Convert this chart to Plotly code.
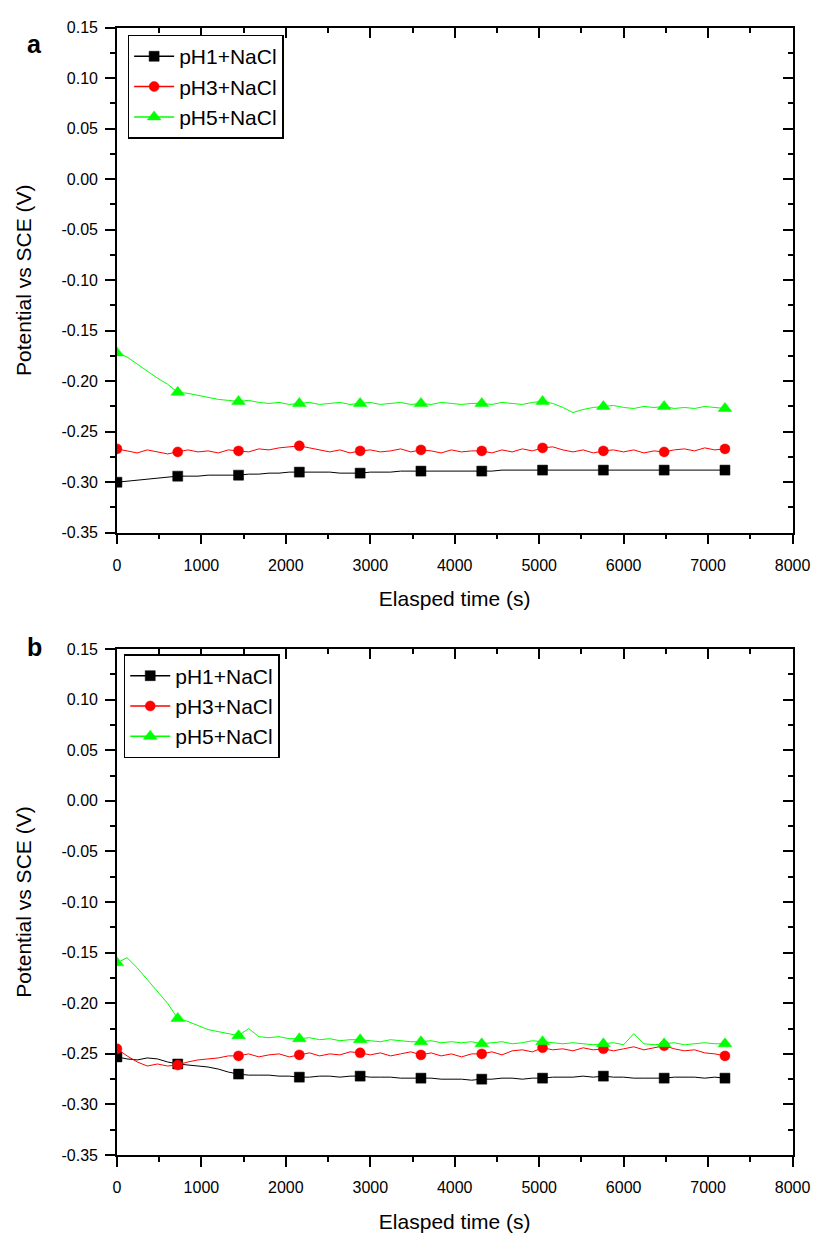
import plotly.graph_objects as go

# Elapsed time grid (s), one reading every 120 s
time_s = [i * 120 for i in range(61)]

# Panel a: open-circuit potential vs SCE (V)
a_ph1 = [-0.300, -0.299, -0.298, -0.297, -0.296, -0.295, -0.294, -0.294, -0.294, -0.293,
         -0.293, -0.293, -0.293, -0.292, -0.292, -0.291, -0.291, -0.290, -0.290, -0.290,
         -0.290, -0.290, -0.291, -0.291, -0.291, -0.290, -0.290, -0.290, -0.289, -0.289,
         -0.289, -0.289, -0.289, -0.289, -0.289, -0.289, -0.289, -0.289, -0.288, -0.288,
         -0.288, -0.288, -0.288, -0.288, -0.288, -0.288, -0.288, -0.288, -0.288, -0.288,
         -0.288, -0.288, -0.288, -0.288, -0.288, -0.288, -0.288, -0.288, -0.288, -0.288,
         -0.288]
a_ph3 = [-0.267, -0.269, -0.271, -0.268, -0.270, -0.272, -0.270, -0.268, -0.270, -0.269,
         -0.271, -0.268, -0.269, -0.270, -0.267, -0.268, -0.266, -0.265, -0.264, -0.266,
         -0.268, -0.270, -0.268, -0.271, -0.269, -0.268, -0.270, -0.269, -0.267, -0.270,
         -0.268, -0.269, -0.271, -0.268, -0.270, -0.269, -0.269, -0.271, -0.268, -0.270,
         -0.267, -0.269, -0.266, -0.265, -0.268, -0.270, -0.268, -0.271, -0.269, -0.268,
         -0.270, -0.268, -0.271, -0.269, -0.270, -0.268, -0.267, -0.269, -0.266, -0.268,
         -0.267]
a_ph5 = [-0.172, -0.176, -0.183, -0.190, -0.197, -0.203, -0.211, -0.212, -0.214, -0.216,
         -0.218, -0.219, -0.220, -0.219, -0.221, -0.222, -0.221, -0.223, -0.222, -0.221,
         -0.223, -0.222, -0.221, -0.223, -0.222, -0.221, -0.223, -0.222, -0.221, -0.223,
         -0.222, -0.223, -0.221, -0.222, -0.223, -0.222, -0.222, -0.223, -0.221, -0.222,
         -0.223, -0.221, -0.220, -0.222, -0.226, -0.231, -0.228, -0.226, -0.225, -0.224,
         -0.226, -0.227, -0.225, -0.226, -0.225, -0.227, -0.226, -0.227, -0.225, -0.226,
         -0.227]

# Panel b
b_ph1 = [-0.253, -0.255, -0.256, -0.254, -0.255, -0.258, -0.260, -0.261, -0.262, -0.263,
         -0.265, -0.268, -0.270, -0.271, -0.271, -0.271, -0.272, -0.272, -0.273, -0.273,
         -0.272, -0.272, -0.273, -0.272, -0.272, -0.273, -0.273, -0.273, -0.274, -0.274,
         -0.274, -0.274, -0.275, -0.275, -0.275, -0.276, -0.275, -0.275, -0.274, -0.274,
         -0.275, -0.274, -0.274, -0.273, -0.273, -0.273, -0.272, -0.273, -0.272, -0.273,
         -0.273, -0.274, -0.274, -0.274, -0.274, -0.273, -0.273, -0.273, -0.274, -0.273,
         -0.274]
b_ph3 = [-0.245, -0.252, -0.258, -0.262, -0.260, -0.262, -0.261, -0.258, -0.256, -0.255,
         -0.254, -0.252, -0.252, -0.250, -0.253, -0.251, -0.250, -0.253, -0.251, -0.249,
         -0.252, -0.250, -0.251, -0.248, -0.249, -0.251, -0.249, -0.252, -0.250, -0.248,
         -0.251, -0.249, -0.252, -0.250, -0.253, -0.250, -0.250, -0.248, -0.251, -0.247,
         -0.246, -0.248, -0.244, -0.246, -0.245, -0.247, -0.244, -0.246, -0.245, -0.247,
         -0.245, -0.243, -0.246, -0.244, -0.242, -0.245, -0.247, -0.246, -0.249, -0.250,
         -0.252]
b_ph5 = [-0.160, -0.155, -0.165, -0.177, -0.188, -0.200, -0.215, -0.218, -0.222, -0.226,
         -0.228, -0.230, -0.232, -0.225, -0.233, -0.234, -0.233, -0.235, -0.235, -0.234,
         -0.236, -0.235, -0.237, -0.236, -0.236, -0.237, -0.238, -0.236, -0.237, -0.238,
         -0.238, -0.237, -0.239, -0.238, -0.239, -0.238, -0.240, -0.239, -0.238, -0.240,
         -0.239, -0.237, -0.238, -0.239, -0.240, -0.239, -0.240, -0.241, -0.240, -0.239,
         -0.241, -0.230, -0.240, -0.241, -0.240, -0.239, -0.241, -0.240, -0.239, -0.240,
         -0.240]

series_names = ["pH1+NaCl", "pH3+NaCl", "pH5+NaCl"]
x_ticks = [0, 1000, 2000, 3000, 4000, 5000, 6000, 7000, 8000]
y_ticks = [0.15, 0.10, 0.05, 0.00, -0.05, -0.10, -0.15, -0.20, -0.25, -0.30, -0.35]
y_ticktext = [f"{v:.2f}" for v in y_ticks]

colors = ["#000000", "#FF0000", "#00FF00"]
symbols = ["square", "circle", "triangle-up"]
sym_sizes = [10, 10, 12]
MARK_EVERY = 6  # a symbol every 720 s

FONT = "Liberation Sans, Arial, sans-serif"
INK = "#000000"
W, H = 830, 1241
px_x = lambda p: p / W
px_y = lambda p: 1 - p / H

fig = go.Figure()

panels = [
    ("x", "y", "legend", [a_ph1, a_ph3, a_ph5]),
    ("x2", "y2", "legend2", [b_ph1, b_ph3, b_ph5]),
]
for xa, ya, leg, data in panels:
    for k, (name, vals, c, s, ss) in enumerate(zip(series_names, data, colors, symbols, sym_sizes)):
        # full curve
        fig.add_trace(go.Scatter(
            x=time_s, y=vals, mode="lines", line=dict(color=c, width=1),
            xaxis=xa, yaxis=ya, showlegend=False, hoverinfo="x+y",
        ))
        # symbols on every 720 s reading
        fig.add_trace(go.Scatter(
            x=time_s[::MARK_EVERY], y=vals[::MARK_EVERY], mode="markers",
            marker=dict(color=c, symbol=s, size=ss, line=dict(width=0.5, color=c)),
            xaxis=xa, yaxis=ya, showlegend=False,
        ))
        # legend entry (line with symbol)
        fig.add_trace(go.Scatter(
            x=[None], y=[None], name=name, mode="lines+markers",
            line=dict(color=c, width=1.5),
            marker=dict(color=c, symbol=s, size=ss, line=dict(width=0.5, color=c)),
            xaxis=xa, yaxis=ya, legend=leg, legendgroup=f"{leg}_{k}",
        ))

# invisible traces that carry the inward tick axes on the top and right edges
for xa, ya in [("x3", "y3"), ("x4", "y4")]:
    fig.add_trace(go.Scatter(x=[None], y=[None], xaxis=xa, yaxis=ya,
                             showlegend=False, hoverinfo="skip"))

dom_x = [px_x(116), px_x(810)]
dom_a = [px_y(532), px_y(20)]
dom_b = [px_y(1163), px_y(650)]

tickfont = dict(family=FONT, size=16, color=INK)
titlefont = dict(family=FONT, size=21, color=INK)


def main_x(anchor):
    return dict(domain=dom_x, anchor=anchor, range=[0, 8000], tickvals=x_ticks,
                ticktext=[str(v) for v in x_ticks], ticks="outside", ticklen=10,
                tickwidth=1.5, tickcolor=INK, showline=True, linewidth=1.5,
                linecolor=INK, mirror=True, showgrid=False, zeroline=False,
                minor=dict(ticks="outside", ticklen=5, tickwidth=1.5, dtick=500,
                           tickcolor=INK, showgrid=False),
                tickfont=tickfont, ticklabelstandoff=7,
                title=dict(text="Elasped time (s)", font=titlefont, standoff=19))


def main_y(anchor, dom):
    return dict(domain=dom, anchor=anchor, range=[-0.35, 0.15], tickvals=y_ticks,
                ticktext=y_ticktext, ticks="outside", ticklen=10, tickwidth=1.5,
                tickcolor=INK, showline=True, linewidth=1.5, linecolor=INK,
                mirror=True, showgrid=False, zeroline=False,
                minor=dict(ticks="outside", ticklen=5, tickwidth=1.5, dtick=0.025,
                           tickcolor=INK, showgrid=False),
                tickfont=tickfont, ticklabelstandoff=4,
                title=dict(text="Potential vs SCE (V)", font=titlefont, standoff=24))


def edge_x(anchor, over):
    return dict(domain=dom_x, anchor=anchor, overlaying=over, side="top",
                range=[0, 8000], tickvals=x_ticks, ticks="inside", ticklen=10,
                tickwidth=1.5, tickcolor=INK, showticklabels=False,
                showline=False, showgrid=False, zeroline=False,
                minor=dict(ticks="inside", ticklen=5, tickwidth=1.5, dtick=500,
                           tickcolor=INK, showgrid=False))


def edge_y(anchor, over, dom):
    return dict(domain=dom, anchor=anchor, overlaying=over, side="right",
                range=[-0.35, 0.15], tickvals=y_ticks, ticks="inside", ticklen=10,
                tickwidth=1.5, tickcolor=INK, showticklabels=False,
                showline=False, showgrid=False, zeroline=False,
                minor=dict(ticks="inside", ticklen=5, tickwidth=1.5, dtick=0.025,
                           tickcolor=INK, showgrid=False))


legend_style = dict(font=dict(family=FONT, size=21, color=INK),
                    bgcolor="white", bordercolor=INK, borderwidth=1.5,
                    xanchor="left", yanchor="top", traceorder="grouped",
                    tracegroupgap=0, itemwidth=40)

fig.update_layout(
    width=W, height=H, margin=dict(l=0, r=0, t=0, b=0),
    paper_bgcolor="white", plot_bgcolor="white",
    font=dict(family=FONT, color=INK),
    xaxis=main_x("y"), yaxis=main_y("x", dom_a),
    xaxis2=main_x("y2"), yaxis2=main_y("x2", dom_b),
    xaxis3=edge_x("y3", "x"), yaxis3=edge_y("x3", "y", dom_a),
    xaxis4=edge_x("y4", "x2"), yaxis4=edge_y("x4", "y2", dom_b),
    legend=dict(x=px_x(127), y=px_y(27), **legend_style),
    legend2=dict(x=px_x(123), y=px_y(655), **legend_style),
    annotations=[
        dict(text="<b>a</b>", x=px_x(22), y=px_y(20), xref="paper", yref="paper",
             showarrow=False, font=dict(family=FONT, size=25, color=INK)),
        dict(text="<b>b</b>", x=px_x(22), y=px_y(648), xref="paper", yref="paper",
             showarrow=False, font=dict(family=FONT, size=25, color=INK)),
    ],
)

fig.write_html("out.html")
